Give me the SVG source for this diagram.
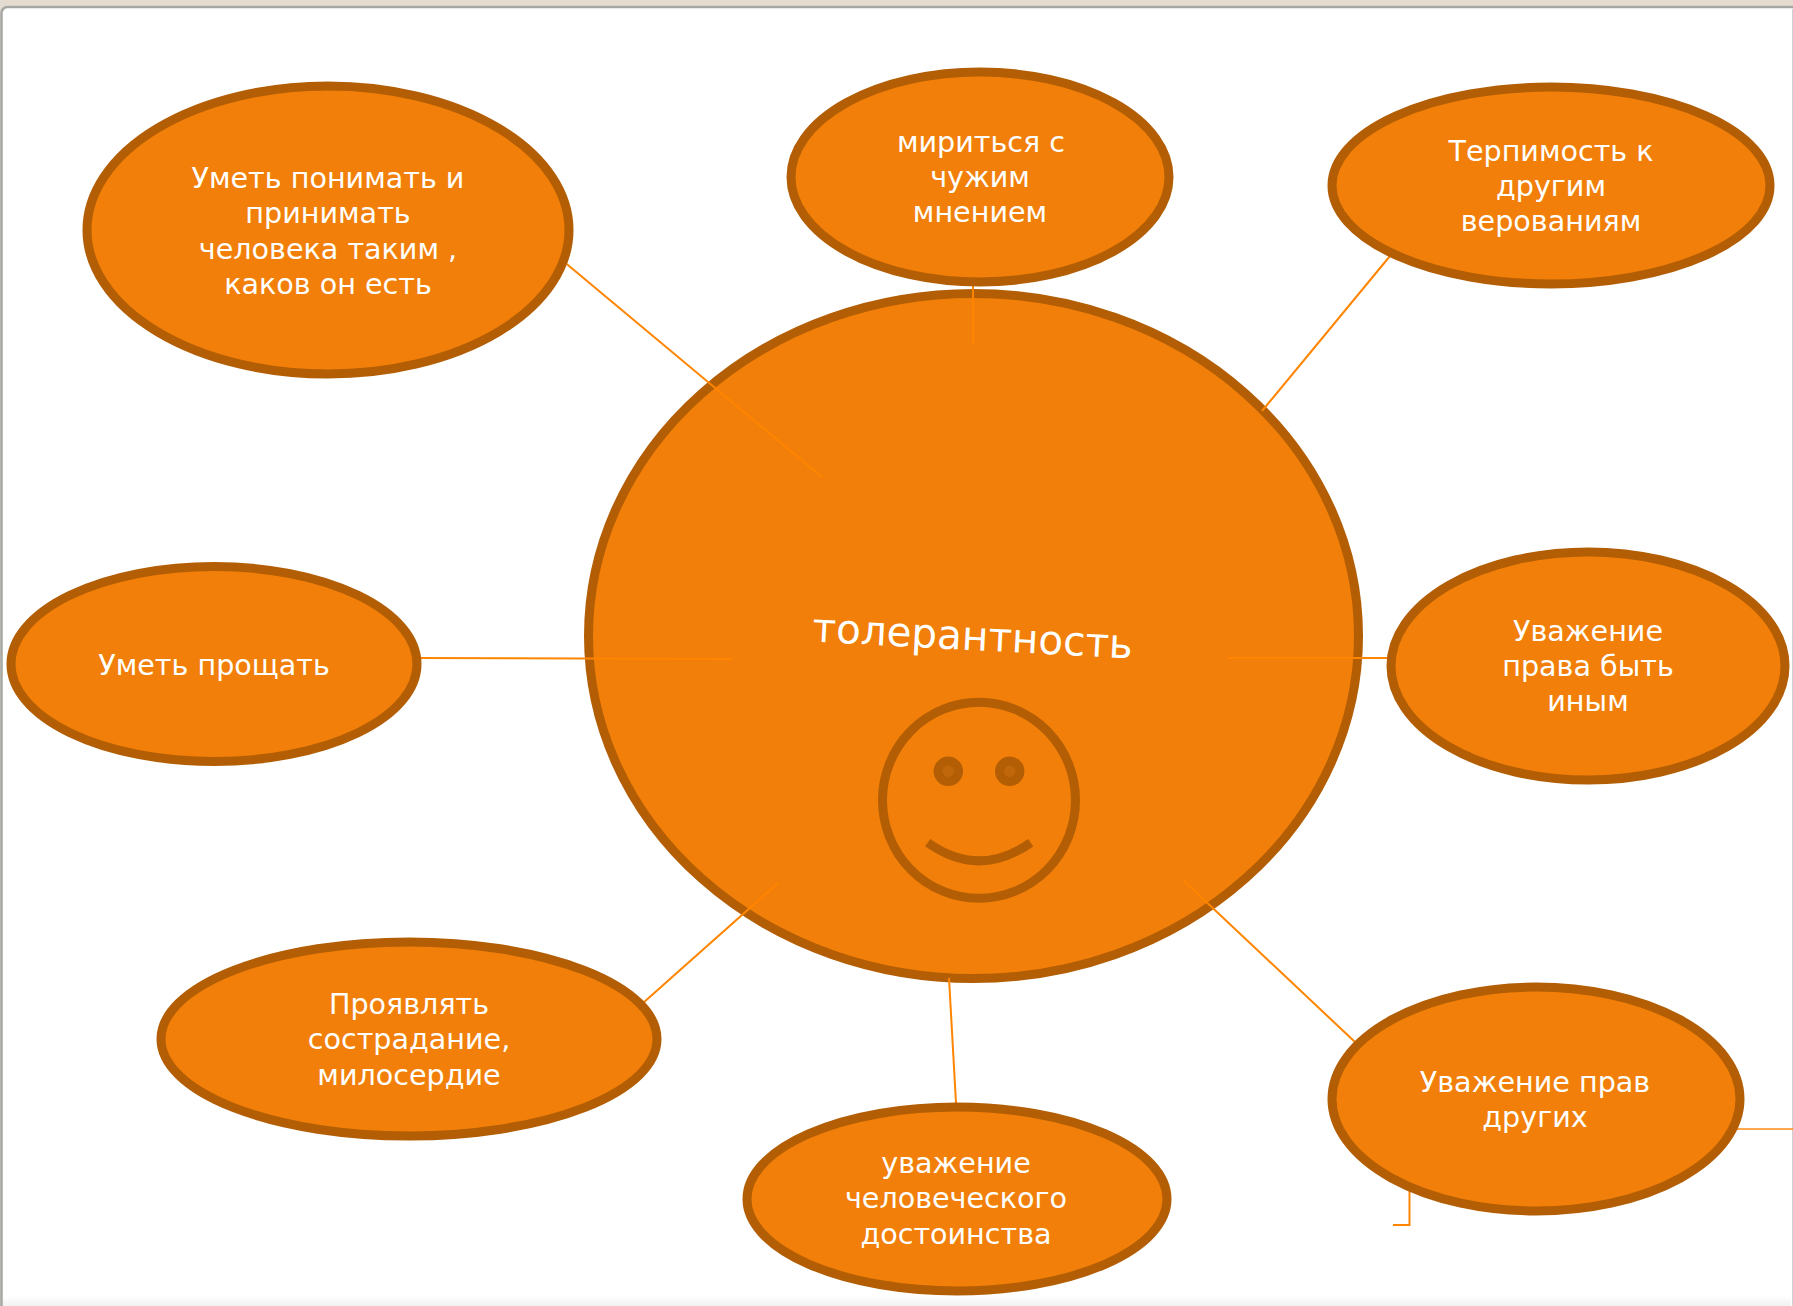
<svg xmlns="http://www.w3.org/2000/svg" width="1793" height="1306" viewBox="0 0 1793 1306">
<defs><linearGradient id="g" x1="0" y1="0" x2="0" y2="1"><stop offset="0" stop-color="#fff"/><stop offset="1" stop-color="#f1f1f1"/></linearGradient></defs>
<style>
.n{fill:#f17f09;stroke:#b35e04;stroke-width:9}
.c{fill:none;stroke:#ff8500;stroke-width:2}
.s{fill:none;stroke:#b35e04;stroke-width:9}
text{font-family:"DejaVu Sans",sans-serif;font-size:28.600px;fill:#fff;text-anchor:middle}
</style>
<rect width="1793" height="1306" fill="#e4dcd0"/>
<rect x="1.500" y="7" width="1800" height="1320" rx="6" fill="#fff" stroke="#a6a6a2" stroke-width="2.500"/>
<rect x="3" y="1296" width="1788" height="10" fill="url(#g)"/>
<rect x="1792" y="9" width="1" height="1297" fill="#d0d0d0"/>
<g id="center"><ellipse class="n" cx="973.500" cy="636" rx="385" ry="342.500"/>
<text x="972" y="650" style="font-size:40.500px" transform="rotate(3 972 650)">толерантность</text>
<g id="smiley"><ellipse class="s" cx="979" cy="800.300" rx="96.500" ry="98"/>
<circle cx="948.300" cy="771.300" r="14.700" fill="#b35e04"/><circle cx="948.300" cy="771.300" r="5.700" fill="#bf670a"/>
<circle cx="1009.700" cy="771.300" r="14.700" fill="#b35e04"/><circle cx="1009.700" cy="771.300" r="5.700" fill="#bf670a"/>
<path class="s" d="M927.700 842.700Q979 879 1030.700 842.700"/></g></g>
<g id="connectors">
<path class="c" d="M566.700 264L822.700 477.700"/>
<path class="c" d="M973 285V345"/>
<path class="c" d="M1390 256L1262 411"/>
<path class="c" d="M1389 658H1228"/>
<path class="c" d="M420 658L732 659"/>
<path class="c" d="M643 1003L778 883"/>
<path class="c" d="M956 1103L949 978"/>
<path class="c" d="M1355 1042L1183 880"/>
<path class="c" d="M1737 1129H1793" stroke-opacity=".7"/>
<path class="c" d="M1409.500 1190V1225H1393"/>
</g>
<g id="n1"><ellipse class="n" cx="328" cy="230" rx="241" ry="144"/>
<text x="328" y="188">Уметь понимать и</text><text x="328" y="223">принимать</text><text x="328" y="259">человека таким ,</text><text x="328" y="294">каков он есть</text></g>
<g id="n2"><ellipse class="n" cx="980" cy="177" rx="189" ry="105"/>
<text x="981" y="152">мириться с</text><text x="980" y="187">чужим</text><text x="980" y="222">мнением</text></g>
<g id="n3"><ellipse class="n" cx="1551" cy="185.500" rx="219" ry="98.500"/>
<text x="1551" y="161">Терпимость к</text><text x="1551" y="196">другим</text><text x="1551" y="231">верованиям</text></g>
<g id="n4"><ellipse class="n" cx="1588" cy="666" rx="197" ry="114"/>
<text x="1588" y="641">Уважение</text><text x="1588" y="676">права быть</text><text x="1588" y="711">иным</text></g>
<g id="n5"><ellipse class="n" cx="214" cy="664" rx="203" ry="97.500"/>
<text x="214" y="675">Уметь прощать</text></g>
<g id="n6"><ellipse class="n" cx="409" cy="1039" rx="248" ry="97"/>
<text x="409" y="1014">Проявлять</text><text x="409" y="1049">сострадание,</text><text x="409" y="1085">милосердие</text></g>
<g id="n7"><ellipse class="n" cx="957" cy="1199" rx="210" ry="92"/>
<text x="956" y="1173">уважение</text><text x="956" y="1208">человеческого</text><text x="956" y="1244">достоинства</text></g>
<g id="n8"><ellipse class="n" cx="1536" cy="1099" rx="204" ry="112"/>
<text x="1535" y="1092">Уважение прав</text><text x="1535" y="1127">других</text></g>
</svg>
